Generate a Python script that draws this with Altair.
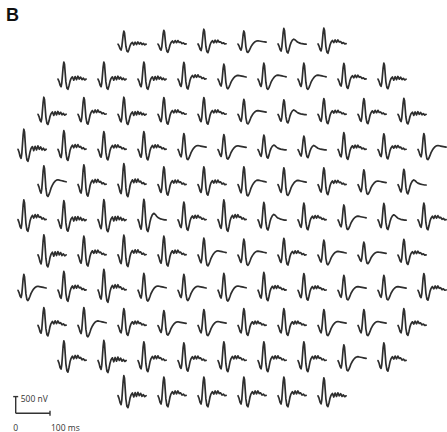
import altair as alt
import pandas as pd

# ---- data -------------------------------------------------------------
# traces per row of the hexagonal stimulus array (top to bottom)
row_counts = [6, 9, 10, 11, 10, 11, 10, 11, 10, 9, 6]

# sample times of one response (ms)
t_ms = [0, 3, 6, 9, 11, 13, 15, 17, 19, 21, 23, 26, 29, 32, 35, 38, 42, 46, 50, 54, 58, 62, 66, 70, 74, 78, 82]

# waveform families (nV)
wave_A = [40, -40, -170, -230, -100, 180, 470, 640, 560, 250, -60, -280, -320, -200, -40, 60, 120, 0, 130, 20, 140, 40, 110, 20, 70, 10, 40]
wave_B = [40, -40, -170, -220, -90, 190, 480, 630, 550, 240, -60, -270, -310, -170, 0, 100, 170, 90, 190, 100, 190, 110, 130, 60, 90, 40, 50]
wave_C = [40, -40, -160, -220, -100, 160, 450, 600, 520, 230, -80, -290, -320, -260, -170, -70, 20, 90, 140, 170, 180, 170, 160, 150, 140, 130, 120]
wave_D = [40, -40, -170, -230, -100, 170, 460, 620, 540, 240, -50, -260, -300, -180, -20, 90, 180, 220, 190, 140, 100, 80, 60, 50, 40, 30, 30]
waves = {"A": wave_A, "B": wave_B, "C": wave_C, "D": wave_D}

# waveform family of every trace, row by row
shapes = [
    "ABBCDB",
    "AAABCCCBA",
    "ABABBCDBBA",
    "ABBBCCDDBBC",
    "CBBBBCCBCD",
    "BAADBBDBCDB",
    "ABBBCCBCCB",
    "CBBCCCBBCCB",
    "BCBCCBBCCB",
    "BABBBBBCB",
    "ABBBBA",
]

# relative amplitude of every trace, row by row
gains = [
    [0.65, 0.70, 0.75, 0.70, 0.80, 0.80],
    [0.85, 0.85, 0.85, 0.85, 0.80, 0.85, 0.85, 0.80, 0.80],
    [0.85, 0.85, 0.85, 0.85, 0.85, 0.80, 0.75, 0.80, 0.80, 0.80],
    [1.00, 0.95, 0.90, 0.90, 0.85, 0.80, 0.75, 0.70, 0.85, 0.80, 0.85],
    [1.00, 1.00, 1.05, 0.90, 0.90, 0.95, 0.90, 0.85, 0.80, 0.80],
    [1.00, 0.95, 1.00, 1.05, 0.90, 1.00, 0.90, 0.85, 0.80, 0.85, 0.85],
    [1.00, 0.95, 1.00, 0.95, 0.90, 0.85, 0.85, 0.80, 0.70, 0.80],
    [0.85, 0.95, 1.05, 0.90, 0.85, 0.90, 0.90, 0.85, 0.80, 0.80, 0.85],
    [0.90, 0.95, 0.85, 0.80, 0.85, 0.85, 0.85, 0.85, 0.85, 0.85],
    [1.00, 1.00, 0.95, 0.90, 0.95, 0.95, 0.95, 0.85, 0.90],
    [1.00, 0.95, 0.95, 0.95, 0.95, 0.90],
]

scale_bar_nv = 500
scale_bar_ms = 100

# ---- layout (pixels per unit) -------------------------------------------
W, H = 447, 432
KX = 0.343      # px per ms
KY = 0.0334     # px per nV
XMAX = W / KX
YMAX = H / KY
COL_STEP_PX = 40
ROW_STEP_PX = 35.2
FIRST_ROW_PX = 45
LEFT_PX = 18

rows = []
tid = 0
for r, n in enumerate(row_counts):
    base_nv = (H - (FIRST_ROW_PX + r * ROW_STEP_PX)) / KY
    start_px = LEFT_PX + (max(row_counts) - n) * COL_STEP_PX / 2
    for i in range(n):
        x0 = (start_px + i * COL_STEP_PX) / KX
        wave = waves[shapes[r][i]]
        g = gains[r][i]
        for k, (t, v) in enumerate(zip(t_ms, wave)):
            rows.append({"id": tid, "k": k, "x": x0 + t, "y": base_nv + g * v})
        tid += 1
df = pd.DataFrame(rows)

xs = alt.Scale(domain=[0, XMAX], nice=False, zero=False)
ys = alt.Scale(domain=[0, YMAX], nice=False, zero=False)

traces = alt.Chart(df).mark_line(
    color="#2e2e2e", strokeWidth=1.7, strokeJoin="round", strokeCap="round"
).encode(
    x=alt.X("x:Q", scale=xs, axis=None),
    y=alt.Y("y:Q", scale=ys, axis=None),
    detail="id:N",
    order="k:Q",
)

# scale bar
ox = 15.7 / KX
oy = (H - 413.3) / KY
tick_ms = 2.5 / KX
tick_nv = 2.5 / KY
bar = pd.DataFrame([
    {"x": ox, "x2": ox, "y": oy, "y2": oy + scale_bar_nv},
    {"x": ox, "x2": ox + scale_bar_ms, "y": oy, "y2": oy},
    {"x": ox - tick_ms, "x2": ox + tick_ms, "y": oy + scale_bar_nv, "y2": oy + scale_bar_nv},
    {"x": ox + scale_bar_ms, "x2": ox + scale_bar_ms, "y": oy - tick_nv, "y2": oy + tick_nv},
])
bar_chart = alt.Chart(bar).mark_rule(color="#333333", strokeWidth=1.4).encode(
    x=alt.X("x:Q", scale=xs, axis=None),
    x2="x2:Q",
    y=alt.Y("y:Q", scale=ys, axis=None),
    y2="y2:Q",
)

labels = pd.DataFrame([
    {"x": ox + 5 / KX, "y": oy + scale_bar_nv - 2 / KY, "text": f"{scale_bar_nv} nV"},
    {"x": ox - 2.5 / KX, "y": oy - 14.5 / KY, "text": "0"},
    {"x": ox + scale_bar_ms + 1 / KX, "y": oy - 14.5 / KY, "text": f"{scale_bar_ms} ms"},
])
label_chart = alt.Chart(labels).mark_text(
    font="Open Sans", fontSize=8.5, color="#333333", align="left", baseline="middle"
).encode(
    x=alt.X("x:Q", scale=xs, axis=None),
    y=alt.Y("y:Q", scale=ys, axis=None),
    text="text:N",
)

panel = alt.Chart(pd.DataFrame({"t": ["B"]})).mark_text(
    font="Liberation Sans", fontSize=18, fontWeight="bold", color="#111111",
    align="left", baseline="alphabetic"
).encode(x=alt.value(6), y=alt.value(21), text="t:N")

chart = alt.layer(traces, bar_chart, label_chart, panel).properties(
    width=W, height=H, padding=0, autosize=alt.AutoSizeParams(type="none"),
    background="white",
).configure_view(stroke=None)

chart.save("out.html", embed_options={"renderer": "svg", "actions": False})
